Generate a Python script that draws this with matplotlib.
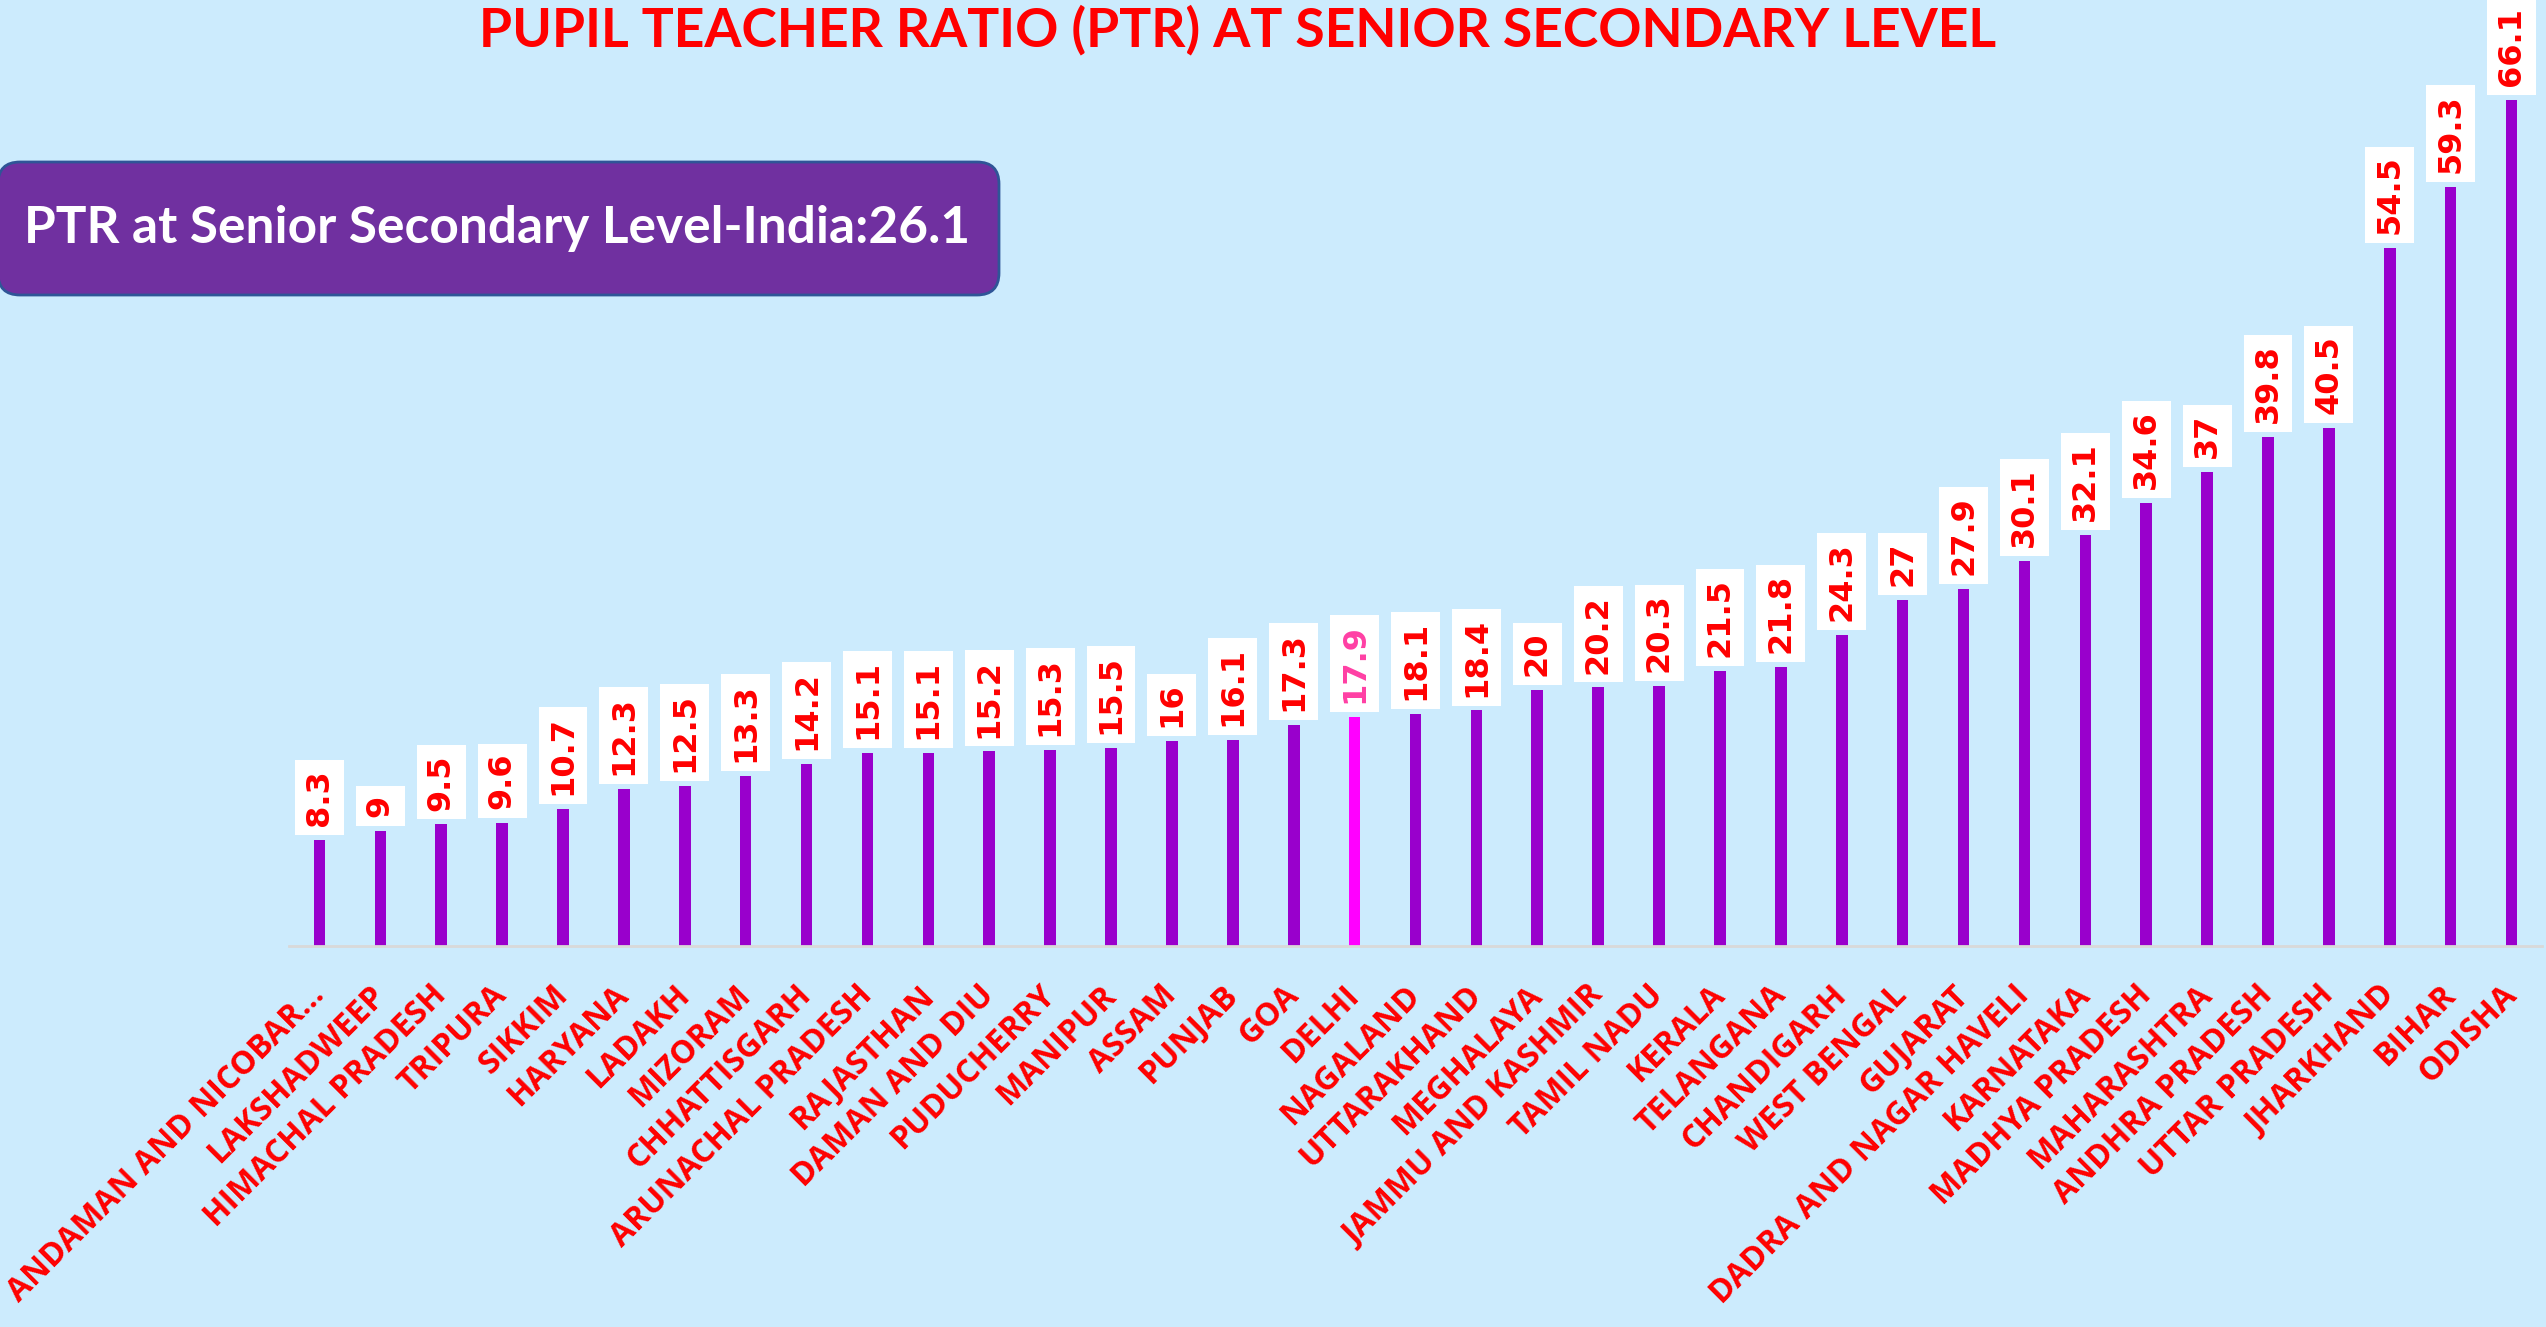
import matplotlib
matplotlib.use("Agg")
import matplotlib.pyplot as plt
from matplotlib.patches import FancyBboxPatch

# DATA
states = ["ANDAMAN AND NICOBAR…", "LAKSHADWEEP", "HIMACHAL PRADESH", "TRIPURA", "SIKKIM",
          "HARYANA", "LADAKH", "MIZORAM", "CHHATTISGARH", "ARUNACHAL PRADESH", "RAJASTHAN",
          "DAMAN AND DIU", "PUDUCHERRY", "MANIPUR", "ASSAM", "PUNJAB", "GOA", "DELHI",
          "NAGALAND", "UTTARAKHAND", "MEGHALAYA", "JAMMU AND KASHMIR", "TAMIL NADU", "KERALA",
          "TELANGANA", "CHANDIGARH", "WEST BENGAL", "GUJARAT", "DADRA AND NAGAR HAVELI",
          "KARNATAKA", "MADHYA PRADESH", "MAHARASHTRA", "ANDHRA PRADESH", "UTTAR PRADESH",
          "JHARKHAND", "BIHAR", "ODISHA"]
ptr = [8.3, 9, 9.5, 9.6, 10.7, 12.3, 12.5, 13.3, 14.2, 15.1, 15.1, 15.2, 15.3, 15.5, 16,
       16.1, 17.3, 17.9, 18.1, 18.4, 20, 20.2, 20.3, 21.5, 21.8, 24.3, 27, 27.9, 30.1, 32.1,
       34.6, 37, 39.8, 40.5, 54.5, 59.3, 66.1]
highlight = "DELHI"
india_ptr = 26.1

bg = "#CCEBFD"
bar_color = "#9900CC"
hl_color = "#FF00FF"

fig = plt.figure(figsize=(25.46, 13.27), dpi=100, facecolor=bg)
ax = fig.add_axes([289 / 2546, 381 / 1327, 2253 / 2546, 946 / 1327])
ax.set_facecolor(bg)

x = list(range(len(states)))
colors = [hl_color if s == highlight else bar_color for s in states]
ax.bar(x, ptr, width=0.19, color=colors, zorder=2)

ax.set_xlim(-0.5, len(states) - 0.5)
ax.set_ylim(0, 73.9)
for side in ["top", "right", "left"]:
    ax.spines[side].set_visible(False)
ax.spines["bottom"].set_color("#D9D9D9")
ax.spines["bottom"].set_linewidth(2)
ax.set_yticks([])
ax.set_xticks([])

# value labels
for i, v in enumerate(ptr):
    tc = "#FF3FA4" if states[i] == highlight else "#FF0000"
    ax.annotate(f"{v:g}", (i, v), xytext=(0, 10), textcoords="offset points",
                rotation=90, ha="center", va="bottom", fontsize=23, fontweight="bold",
                color=tc, family="DejaVu Sans",
                bbox=dict(boxstyle="square,pad=0.28", fc="white", ec="none"))

# category labels
for i, s in enumerate(states):
    ax.annotate(s, (i, 0), xytext=(0, -32), textcoords="offset points",
                rotation=45, rotation_mode="anchor", ha="right", va="center",
                fontsize=23, fontweight="bold", color="#FF0000", family="Open Sans")

# title
fig.text(1238 / 2546, 1 - 30 / 1327, "PUPIL TEACHER RATIO (PTR) AT SENIOR SECONDARY LEVEL",
         ha="center", va="center", fontsize=38.5, fontweight="bold", color="#FF0000",
         family="Lato")

# India box
box = FancyBboxPatch((-2, 1032), 1001, 133, boxstyle="round,pad=0,rounding_size=22",
                     fc="#7030A0", ec="#2F5597", lw=2, transform=None)
fig.patches.append(box)
fig.text(24 / 2546, 1 - 229 / 1327, f"PTR at Senior Secondary Level-India:{india_ptr}",
         ha="left", va="center", fontsize=37, fontweight="bold", color="white", family="Lato")

fig.savefig("out.png", dpi=100, facecolor=bg)
